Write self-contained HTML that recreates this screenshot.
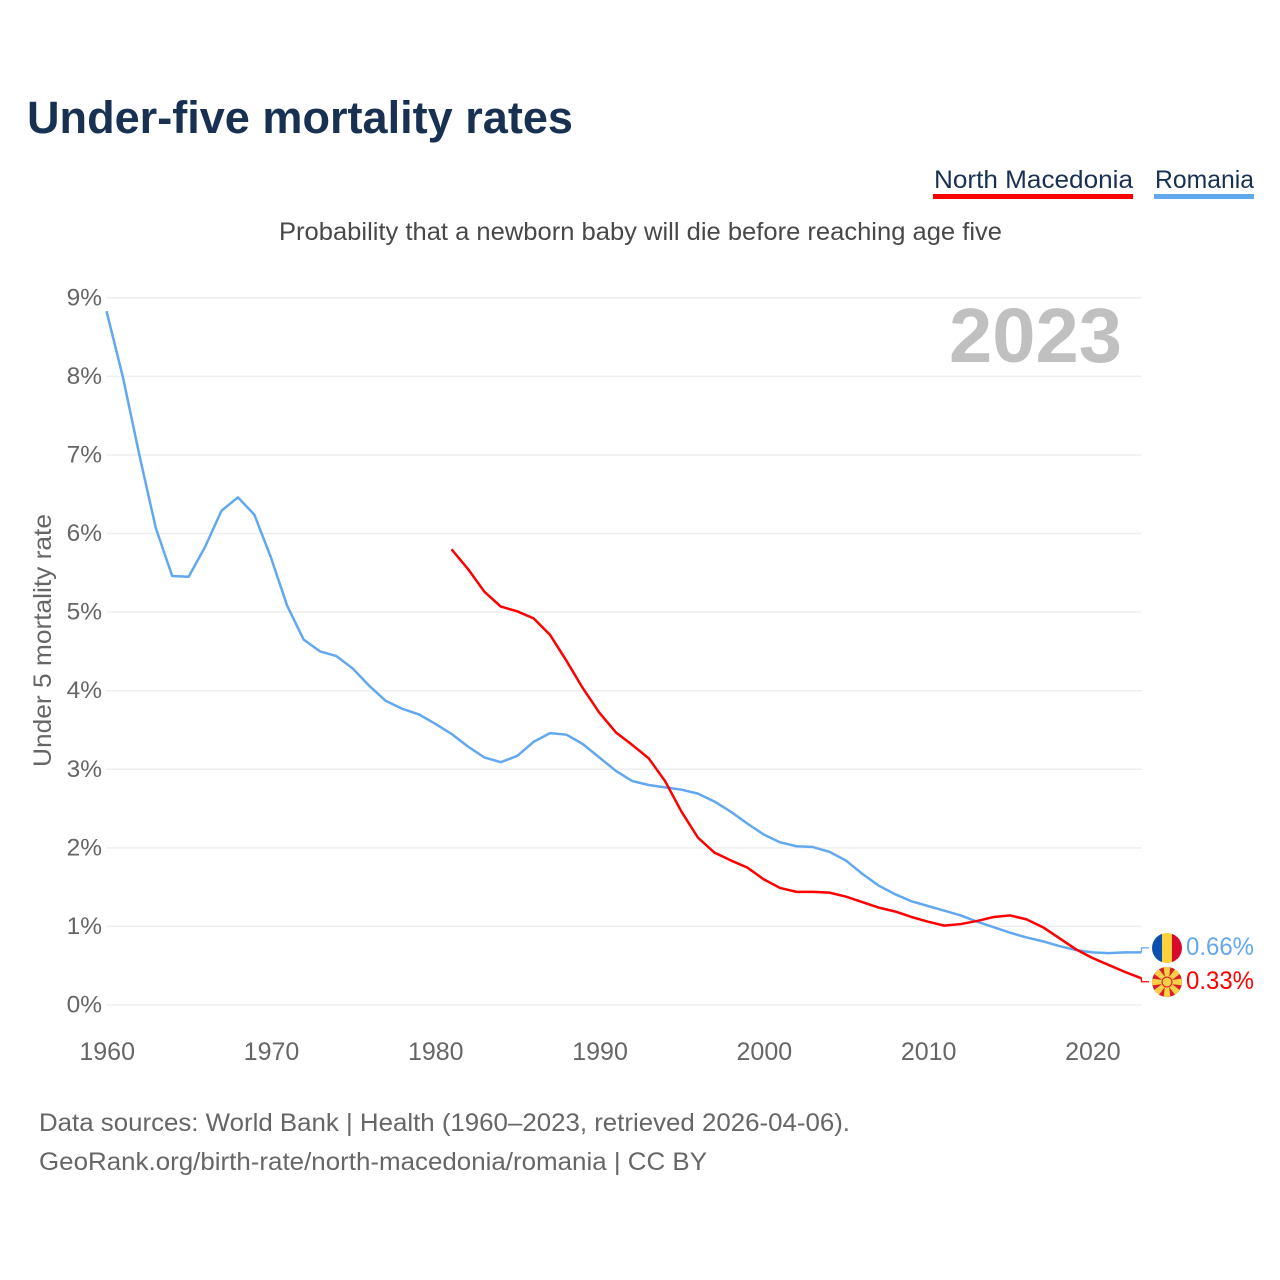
<!DOCTYPE html>
<html lang="en">
<head>
<meta charset="utf-8">
<title>Under-five mortality rates</title>
<style>
html,body{margin:0;padding:0;background:#fff;}
svg{display:block;font-family:"Liberation Sans",sans-serif;}
</style>
</head>
<body>
<svg id="chart" xmlns="http://www.w3.org/2000/svg" width="1280" height="1280" viewBox="0 0 1280 1280">
  <defs>
    <clipPath id="clip-ro"><circle cx="1167" cy="948" r="15"/></clipPath>
    <clipPath id="clip-mk"><circle cx="1167" cy="982" r="15"/></clipPath>
  </defs>
  <rect x="0" y="0" width="1280" height="1280" fill="#fff"/>
  <text x="27" y="133" font-size="45" font-weight="700" fill="#183153" textLength="546" lengthAdjust="spacingAndGlyphs">Under-five mortality rates</text>

  <g>
    <text x="934" y="188" font-size="25" fill="#183153" textLength="199" lengthAdjust="spacingAndGlyphs">North Macedonia</text>
    <rect x="933" y="194" width="200" height="5" fill="#ff0000"/>
  </g>
  <g>
    <text x="1155" y="188" font-size="25" fill="#183153" textLength="99" lengthAdjust="spacingAndGlyphs">Romania</text>
    <rect x="1154" y="194" width="100" height="5" fill="#62a8ee"/>
  </g>

  <text x="279" y="240" font-size="25" fill="#484848" textLength="723" lengthAdjust="spacingAndGlyphs">Probability that a newborn baby will die before reaching age five</text>

  <g id="grid"></g>
  <g id="yticks"></g>
  <g id="xticks"></g>

  <text x="949" y="362" font-size="77" font-weight="700" fill="#c0c0c0" textLength="173" lengthAdjust="spacingAndGlyphs">2023</text>

  <text transform="translate(51 767) rotate(-90)" x="0" y="0" font-size="25" fill="#666" textLength="253" lengthAdjust="spacingAndGlyphs">Under 5 mortality rate</text>

  <g id="series"></g>

  <g clip-path="url(#clip-ro)">
    <rect x="1152" y="933" width="10" height="30" fill="#0b4fb3"/>
    <rect x="1162" y="933" width="10" height="30" fill="#fcd13a"/>
    <rect x="1172" y="933" width="10" height="30" fill="#d9092c"/>
  </g>

  <g clip-path="url(#clip-mk)">
    <rect x="1152" y="967" width="30" height="30" fill="#d81e26"/>
    <g fill="#f8d048">
      <polygon points="1165.5,982 1168.5,982 1170.5,966 1163.5,966"/>
      <polygon points="1165.5,982 1168.5,982 1170.5,966 1163.5,966" transform="rotate(45 1167 982)"/>
      <polygon points="1165.5,982 1168.5,982 1170.5,966 1163.5,966" transform="rotate(90 1167 982)"/>
      <polygon points="1165.5,982 1168.5,982 1170.5,966 1163.5,966" transform="rotate(135 1167 982)"/>
      <polygon points="1165.5,982 1168.5,982 1170.5,966 1163.5,966" transform="rotate(180 1167 982)"/>
      <polygon points="1165.5,982 1168.5,982 1170.5,966 1163.5,966" transform="rotate(225 1167 982)"/>
      <polygon points="1165.5,982 1168.5,982 1170.5,966 1163.5,966" transform="rotate(270 1167 982)"/>
      <polygon points="1165.5,982 1168.5,982 1170.5,966 1163.5,966" transform="rotate(315 1167 982)"/>
    </g>
    <circle cx="1167" cy="982" r="5.5" fill="#d81e26"/>
    <circle cx="1167" cy="982" r="4.4" fill="#f8d048"/>
  </g>

  <g>
    <text x="39" y="1131" font-size="25" fill="#666" textLength="811" lengthAdjust="spacingAndGlyphs">Data sources: World Bank | Health (1960–2023, retrieved 2026-04-06).</text>
    <text x="39" y="1170" font-size="25" fill="#666" textLength="668" lengthAdjust="spacingAndGlyphs">GeoRank.org/birth-rate/north-macedonia/romania | CC BY</text>
  </g>
</svg>
<script>
const yTickValues = [0, 1, 2, 3, 4, 5, 6, 7, 8, 9];
const xTickYears = [1960, 1970, 1980, 1990, 2000, 2010, 2020];

const romaniaStartYear = 1960;
const romaniaValues = [
  8.83, 7.99, 7.00, 6.07, 5.46, 5.45, 5.83, 6.29, 6.46, 6.24,
  5.70, 5.08, 4.65, 4.50, 4.44, 4.28, 4.06, 3.87, 3.77, 3.70,
  3.58, 3.45, 3.29, 3.15, 3.09, 3.17, 3.35, 3.46, 3.44, 3.32,
  3.15, 2.98, 2.85, 2.80, 2.77, 2.74, 2.69, 2.59, 2.46, 2.31,
  2.17, 2.07, 2.02, 2.01, 1.95, 1.84, 1.67, 1.52, 1.41, 1.32,
  1.26, 1.20, 1.14, 1.06, 0.99, 0.92, 0.86, 0.81, 0.75, 0.70,
  0.67, 0.66, 0.67, 0.67
];

const macedoniaStartYear = 1981;
const macedoniaValues = [
  5.80, 5.55, 5.26, 5.07, 5.01, 4.92, 4.71, 4.38, 4.03,
  3.72, 3.47, 3.31, 3.14, 2.85, 2.46, 2.13, 1.94, 1.84, 1.75,
  1.60, 1.49, 1.44, 1.44, 1.43, 1.38, 1.31, 1.24, 1.19, 1.12,
  1.06, 1.01, 1.03, 1.07, 1.12, 1.14, 1.09, 0.99, 0.85, 0.71,
  0.60, 0.51, 0.42, 0.34
];

const romaniaEndLabel = "0.66%";
const macedoniaEndLabel = "0.33%";

const NS = "http://www.w3.org/2000/svg";
function xScale(year) { return 106.5 + (year - 1960) * (1141.5 - 106.5) / 63; }
function yScale(v) { return 1005 - v * (1005 - 297.8) / 9; }

const grid = document.getElementById("grid");
const yticks = document.getElementById("yticks");
const xticks = document.getElementById("xticks");
const series = document.getElementById("series");

yTickValues.forEach(function (v) {
  const line = document.createElementNS(NS, "line");
  
  
  line.setAttribute("x1", xScale(1960));
  line.setAttribute("x2", xScale(2023));
  line.setAttribute("y1", yScale(v));
  line.setAttribute("y2", yScale(v));
  line.setAttribute("stroke", "#eeeeee");
  line.setAttribute("stroke-width", "1.5");
  grid.appendChild(line);

  const t = document.createElementNS(NS, "text");
  
  
  t.setAttribute("x", 102);
  t.setAttribute("y", yScale(v) + 7.5);
  t.setAttribute("text-anchor", "end");
  t.setAttribute("font-size", "24.5");
  t.setAttribute("fill", "#666");
  t.textContent = v + "%";
  yticks.appendChild(t);
});

xTickYears.forEach(function (yr) {
  const t = document.createElementNS(NS, "text");
  
  
  t.setAttribute("x", xScale(yr) + 0.7);
  t.setAttribute("y", 1060);
  t.setAttribute("text-anchor", "middle");
  t.setAttribute("font-size", "25");
  t.setAttribute("fill", "#666");
  t.textContent = String(yr);
  xticks.appendChild(t);
});

function pointsFor(startYear, values) {
  return values.map(function (v, i) {
    return xScale(startYear + i).toFixed(2) + "," + yScale(v).toFixed(2);
  }).join(" ");
}

const romaniaLine = document.createElementNS(NS, "polyline");


romaniaLine.setAttribute("points", pointsFor(romaniaStartYear, romaniaValues));
romaniaLine.setAttribute("fill", "none");
romaniaLine.setAttribute("stroke", "#62a8ee");
romaniaLine.setAttribute("stroke-width", "2.5");
romaniaLine.setAttribute("stroke-linejoin", "round");
series.appendChild(romaniaLine);

const macedoniaLine = document.createElementNS(NS, "polyline");


macedoniaLine.setAttribute("points", pointsFor(macedoniaStartYear, macedoniaValues));
macedoniaLine.setAttribute("fill", "none");
macedoniaLine.setAttribute("stroke", "#ff0000");
macedoniaLine.setAttribute("stroke-width", "2.5");
macedoniaLine.setAttribute("stroke-linejoin", "round");
series.appendChild(macedoniaLine);

function lastY(values) { return yScale(values[values.length - 1]); }

const romaniaConnector = document.createElementNS(NS, "polyline");


romaniaConnector.setAttribute("points", xScale(2023) + "," + lastY(romaniaValues) + " " + xScale(2023) + "," + (lastY(romaniaValues) - 4.5) + " 1149," + (lastY(romaniaValues) - 4.5));
romaniaConnector.setAttribute("fill", "none");
romaniaConnector.setAttribute("stroke", "#62a8ee");
romaniaConnector.setAttribute("stroke-width", "1.2");
series.appendChild(romaniaConnector);

const macedoniaConnector = document.createElementNS(NS, "polyline");


macedoniaConnector.setAttribute("points", xScale(2023) + "," + lastY(macedoniaValues) + " " + xScale(2023) + "," + (lastY(macedoniaValues) + 3.5) + " 1149," + (lastY(macedoniaValues) + 3.5));
macedoniaConnector.setAttribute("fill", "none");
macedoniaConnector.setAttribute("stroke", "#ff0000");
macedoniaConnector.setAttribute("stroke-width", "1.2");
series.appendChild(macedoniaConnector);

const romaniaValueLabel = document.createElementNS(NS, "text");


romaniaValueLabel.setAttribute("x", 1186);
romaniaValueLabel.setAttribute("y", lastY(romaniaValues) + 2.5);
romaniaValueLabel.setAttribute("font-size", "25");
romaniaValueLabel.setAttribute("fill", "#62a8ee");
romaniaValueLabel.setAttribute("textLength", "68");
romaniaValueLabel.setAttribute("lengthAdjust", "spacingAndGlyphs");
romaniaValueLabel.textContent = romaniaEndLabel;
series.appendChild(romaniaValueLabel);

const macedoniaValueLabel = document.createElementNS(NS, "text");


macedoniaValueLabel.setAttribute("x", 1186);
macedoniaValueLabel.setAttribute("y", lastY(macedoniaValues) + 10.5);
macedoniaValueLabel.setAttribute("font-size", "25");
macedoniaValueLabel.setAttribute("fill", "#ff0000");
macedoniaValueLabel.setAttribute("textLength", "68");
macedoniaValueLabel.setAttribute("lengthAdjust", "spacingAndGlyphs");
macedoniaValueLabel.textContent = macedoniaEndLabel;
series.appendChild(macedoniaValueLabel);
</script>
</body>
</html>
